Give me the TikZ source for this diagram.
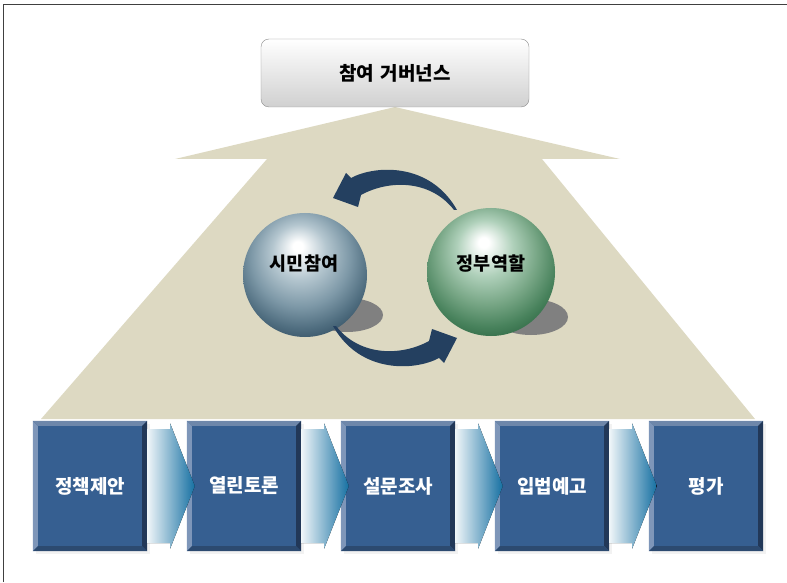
\documentclass[tikz,border=0pt]{standalone}
\usepackage{fontspec}
\setmainfont{Noto Sans CJK KR}
\usetikzlibrary{calc}
\definecolor{beige}{RGB}{221,217,194}
\definecolor{navy}{RGB}{36,64,96}
\definecolor{face}{RGB}{54,95,145}
\definecolor{bevL}{RGB}{126,150,185}
\definecolor{bevT}{RGB}{110,135,170}
\definecolor{bevB}{RGB}{44,74,112}
\definecolor{bevR}{RGB}{34,56,88}
\definecolor{chevL}{RGB}{240,246,249}
\definecolor{chevR}{RGB}{22,112,162}
\definecolor{boxgray}{RGB}{208,208,208}
\pgfdeclareradialshading{ballA}{\pgfpoint{-3bp}{12bp}}{%
 color(0bp)=(white); color(2bp)=(white);
 color(11bp)=(rgb,255:red,180;green,198;blue,207);
 color(20bp)=(rgb,255:red,125;green,152;blue,167);
 color(27bp)=(rgb,255:red,80;green,110;blue,128);
 color(34bp)=(rgb,255:red,42;green,70;blue,90);
 color(40bp)=(rgb,255:red,25;green,48;blue,68);
 color(50bp)=(rgb,255:red,25;green,48;blue,68)}
\pgfdeclareradialshading{ballB}{\pgfpoint{-3bp}{12bp}}{%
 color(0bp)=(white); color(2bp)=(white);
 color(11bp)=(rgb,255:red,175;green,208;blue,186);
 color(20bp)=(rgb,255:red,118;green,165;blue,132);
 color(27bp)=(rgb,255:red,72;green,130;blue,92);
 color(34bp)=(rgb,255:red,38;green,95;blue,60);
 color(40bp)=(rgb,255:red,25;green,72;blue,45);
 color(50bp)=(rgb,255:red,25;green,72;blue,45)}
\tikzset{
 boxface/.style={rectangle, fill=face, minimum width=114pt, minimum height=130pt, inner sep=0pt,
   text=white, font=\fontsize{19}{22}\selectfont\bfseries},
 sphereA/.style={circle, shading=ballA, minimum size=124pt, inner sep=0pt},
 sphereB/.style={circle, shading=ballB, minimum size=128pt, inner sep=0pt},
 spheretext/.style={font=\fontsize{18.5}{22}\selectfont\bfseries, text=black},
 shadowblob/.style={fill=black!50},
 curvearrow/.style={fill=navy},
 chevron/.style={left color=chevL, right color=chevR},
}
\newcommand\bevbox[3]{%
 \fill[black!5] (#2+3,31-3) rectangle (#2+114+3,161-3);
 \node[boxface] (#1) at (#2+57,96) {#3};
 \fill[bevL] (#1.south west) -- (#1.north west) -- ([shift={(5,-5)}]#1.north west) -- ([shift={(5,5)}]#1.south west) -- cycle;
 \fill[bevT] (#1.north west) -- (#1.north east) -- ([shift={(-5,-5)}]#1.north east) -- ([shift={(5,-5)}]#1.north west) -- cycle;
 \fill[bevR] (#1.north east) -- (#1.south east) -- ([shift={(-5,5)}]#1.south east) -- ([shift={(-5,-5)}]#1.north east) -- cycle;
 \fill[bevB] (#1.south east) -- (#1.south west) -- ([shift={(5,5)}]#1.south west) -- ([shift={(-5,5)}]#1.south east) -- cycle;
}
\newcommand\chev[2]{%
 \fill[chevron] ([yshift=57]#1.east) -- ([shift={(23,57)}]#1.east) -- ([shift={(23,62.5)}]#1.east)
   -- ([xshift=8]#2.west) -- ([shift={(23,-62.5)}]#1.east) -- ([shift={(23,-57)}]#1.east)
   -- ([yshift=-57]#1.east) -- cycle;
}
\begin{document}
\begin{tikzpicture}[x=1pt,y=1pt]
\useasboundingbox (0,0) rectangle (787,582);
% frame
\draw[line width=1.6pt, black!75] (3.5,0) -- (3.5,577.5) -- (787,577.5);
% big beige arrow
\fill[beige] (395,475) -- (620,423) -- (542,423) -- (755,163) -- (41,163) -- (267,423) -- (175,423) -- cycle;
% top box
\node[draw=black!45, rounded corners=8pt, top color=white, bottom color=boxgray,
      minimum width=268pt, minimum height=68pt, inner sep=0pt,
      font=\fontsize{19}{22}\selectfont\bfseries] (gov) at (395,509) {참여\hspace{0.35em}거버넌스};
% shadows
\fill[shadowblob] (347,267) ellipse [x radius=36, y radius=17];
\fill[shadowblob] (531,265) ellipse [x radius=37, y radius=18];
% spheres
\node[sphereA] (cit) at (305,307) {};
\node[sphereB] (gvt) at (491,310) {};
\node[spheretext] (citlab) at (304,318) {시민참여};
\node[spheretext] (gvtlab) at (491,318) {정부역할};
% curved arrows
\fill[curvearrow] (333,384) -- (346,409) -- (351,404) .. controls (375,417) and (430,420) .. (457,372)
   -- (454,372) .. controls (430,403) and (388,402) .. (361,387) -- (358,375) -- cycle;
\begin{scope}[rotate around={180:(395,314)}]
\fill[curvearrow] (333,384) -- (346,409) -- (351,404) .. controls (375,417) and (430,420) .. (457,372)
   -- (454,372) .. controls (430,403) and (388,402) .. (361,387) -- (358,375) -- cycle;
\end{scope}
% process boxes
\bevbox{p1}{33}{정책제안}
\bevbox{p2}{187}{열린토론}
\bevbox{p3}{341}{설문조사}
\bevbox{p4}{495}{입법예고}
\bevbox{p5}{649}{평가}
\chev{p1}{p2}
\chev{p2}{p3}
\chev{p3}{p4}
\chev{p4}{p5}
\end{tikzpicture}
\end{document}
